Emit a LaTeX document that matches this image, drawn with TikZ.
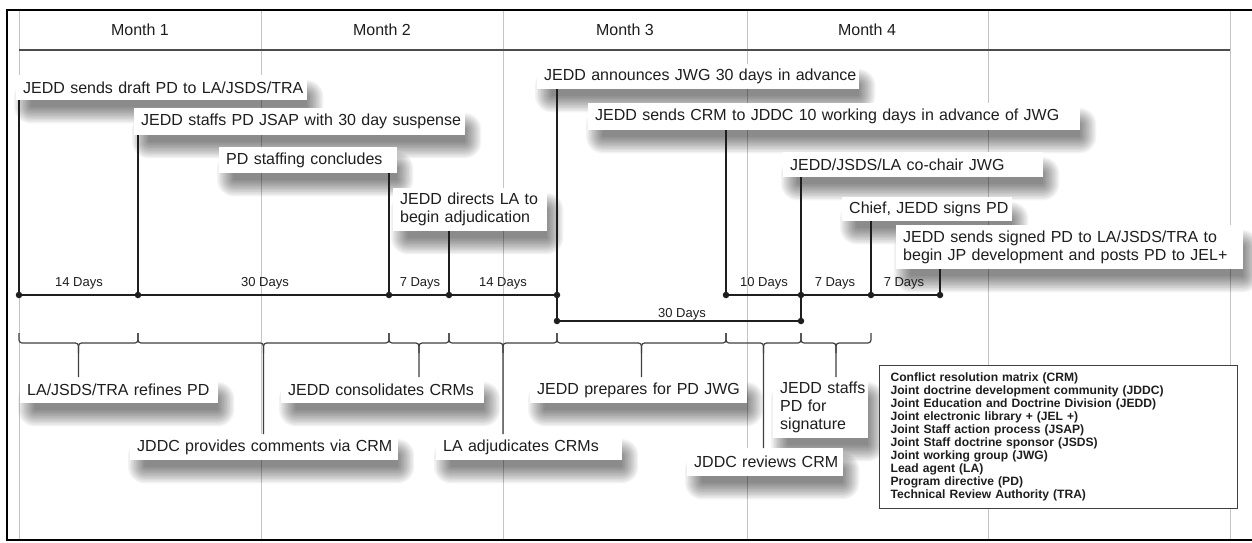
\documentclass[tikz,border=0pt]{standalone}
\usepackage{fontspec}
\setmainfont{Liberation Sans}
\newcommand\mainsz{\fontsize{16}{18}\selectfont}
\newcommand\daysz{\fontsize{13}{15}\selectfont}
\newcommand\legsz{\fontsize{12.1}{13}\selectfont\bfseries}
\definecolor{ink}{HTML}{1E1E1E}
\definecolor{gridc}{HTML}{C4C4C4}
\pgfdeclarelayer{bg}
\pgfsetlayers{bg,main}
\tikzset{
  gridln/.style={gridc, line width=1pt},
  frameln/.style={black, line width=2.5pt},
  hdrln/.style={black!70, line width=1.5pt},
  month/.style={font=\mainsz, text=ink},
  tbox/.style={fill=white, anchor=north west, inner xsep=7pt, inner ysep=0pt,
    align=left, font=\mainsz, text=ink},
  shd/.style={black, opacity=0.046},
  tl/.style={ink, line width=1.3pt},
  dot/.style={circle, fill=ink, inner sep=0pt, minimum size=6.5pt},
  days/.style={font=\daysz, text=ink},
  brc/.style={ink!85, line width=1.2pt, rounded corners=3pt},
  legend/.style={anchor=north west, draw=black!75, line width=1.2pt, fill=white,
    text width=336pt, inner xsep=11pt, inner ysep=7pt, align=left, font=\legsz,
    text=ink, minimum height=143pt}
}
\newcommand\shadowof[1]{%
  \begin{pgfonlayer}{bg}
  \foreach \r [evaluate=\r as \rc using \r+8] in {-7.5,-6,...,9}{
    \fill[shd, rounded corners=\rc pt]
      ([xshift={(7-\r)*1pt}, yshift={(-14+\r)*1pt}]#1.north west) rectangle
      ([xshift={(7+\r)*1pt}, yshift={(-14-\r)*1pt}]#1.south east);
  }
  \end{pgfonlayer}}
\newcommand\bracefor[4]{% xa, xb, target node, id
  \pgfmathsetmacro\bm{(#1+#2)/2}
  \coordinate (bc#4) at (\bm,343);
  \draw[brc] (#1,333) -- (#1,343) -- (bc#4) -- (bc#4 |- #3.north);
  \draw[brc] (#2,333) -- (#2,343) -- (bc#4) -- ([yshift=-10pt]bc#4);
}
\begin{document}
\begin{tikzpicture}[x=1pt,y=-1pt]
\useasboundingbox (0,0) rectangle (1252,542);
\clip (0,0) rectangle (1252,542);
\begin{pgfonlayer}{bg}
\fill[white] (0,0) rectangle (1252,542);
\foreach \gx in {19,261,503,747,988,1230} \draw[gridln] (\gx,10) -- (\gx,540);
\end{pgfonlayer}
% frame and header
\draw[frameln] (1270,10) -- (7,10) -- (7,540) -- (1270,540);
\draw[hdrln] (19,50) -- (1230,50);
\node[month] (m1) at (140,30) {Month 1};
\node[month] (m2) at (382,30) {Month 2};
\node[month] (m3) at (625,30) {Month 3};
\node[month] (m4) at (867,30) {Month 4};
% upper boxes
\node[tbox, text width=277pt, minimum height=25pt] (A) at (16,75) {\mbox{JEDD sends draft PD to LA/JSDS/TRA}};
\node[tbox, text width=317pt, minimum height=27pt] (B) at (134,108) {\mbox{JEDD staffs PD JSAP with 30 day suspense}};
\node[tbox, text width=164pt, minimum height=26pt] (C) at (219,147) {\mbox{PD staffing concludes}};
\node[tbox, text width=140pt, minimum height=43pt] (D) at (393,188) {\mbox{JEDD directs LA to}\\\mbox{begin adjudication}};
\node[tbox, text width=308pt, minimum height=25pt] (E) at (537,64) {\mbox{JEDD announces JWG 30 days in advance}};
\node[tbox, text width=478pt, minimum height=27pt] (F) at (588,103) {\mbox{JEDD sends CRM to JDDC 10 working days in advance of JWG}};
\node[tbox, text width=246pt, minimum height=25pt] (G) at (783,152) {\mbox{JEDD/JSDS/LA co-chair JWG}};
\node[tbox, text width=156pt, minimum height=24pt] (H) at (842,197) {\mbox{Chief, JEDD signs PD}};
\node[tbox, text width=333pt, minimum height=44pt] (I) at (896,225) {\mbox{JEDD sends signed PD to LA/JSDS/TRA to}\\\mbox{begin JP development and posts PD to JEL+}};
% lower boxes
\node[tbox, text width=184pt, minimum height=26pt] (J) at (20,377) {\mbox{LA/JSDS/TRA refines PD}};
\node[tbox, text width=189pt, minimum height=26pt] (L) at (281,377) {\mbox{JEDD consolidates CRMs}};
\node[tbox, text width=203pt, minimum height=26pt] (N) at (530,377) {\mbox{JEDD prepares for PD JWG}};
\node[tbox, text width=81pt, minimum height=61pt] (O) at (773,377) {\mbox{JEDD staffs}\\\mbox{PD for}\\\mbox{signature}};
\node[tbox, text width=254pt, minimum height=26pt] (K) at (130,434) {\mbox{JDDC provides comments via CRM}};
\node[tbox, text width=172pt, minimum height=26pt] (M) at (436,434) {\mbox{LA adjudicates CRMs}};
\node[tbox, text width=142pt, minimum height=28pt] (P) at (687,448) {\mbox{JDDC reviews CRM}};
\foreach \b in {A,B,C,D,E,F,G,H,I,J,K,L,M,N,O,P} {\shadowof{\b}}
% timeline dots
\node[dot] (d1) at (19,295) {};
\node[dot] (d2) at (138,295) {};
\node[dot] (d3) at (389,295) {};
\node[dot] (d4) at (449,295) {};
\node[dot] (d5) at (557,295) {};
\node[dot] (d6) at (726,295) {};
\node[dot] (d7) at (801,295) {};
\node[dot] (d8) at (871,295) {};
\node[dot] (d9) at (940,295) {};
\node[dot] (e1) at (557,321) {};
\node[dot] (e2) at (801,321) {};
% timeline lines
\draw[tl] (d1.center) -- (d2.center) -- (d3.center) -- (d4.center) -- (d5.center);
\draw[tl] (d6.center) -- (d7.center) -- (d8.center) -- (d9.center);
\draw[tl] (d5.center) -- (e1.center) -- (e2.center) -- (d7.center);
% verticals to boxes
\draw[tl] (d1.center) -- (d1.center |- A.south);
\draw[tl] (d2.center) -- (d2.center |- B.south);
\draw[tl] (d3.center) -- (d3.center |- C.south);
\draw[tl] (d4.center) -- (d4.center |- D.south);
\draw[tl] (d5.center) -- (d5.center |- E.south);
\draw[tl] (d6.center) -- (d6.center |- F.south);
\draw[tl] (d7.center) -- (d7.center |- G.south);
\draw[tl] (d8.center) -- (d8.center |- H.south);
\draw[tl] (d9.center) -- (d9.center |- I.south);
% day labels
\node[days] (t1) at (79,283) {14 Days};
\node[days] (t2) at (265,283) {30 Days};
\node[days] (t3) at (420,283) {7 Days};
\node[days] (t4) at (503,283) {14 Days};
\node[days] (t5) at (764,283) {10 Days};
\node[days] (t6) at (835,283) {7 Days};
\node[days] (t7) at (904,283) {7 Days};
\node[days] (t8) at (682,314) {30 Days};
% braces
\bracefor{19}{138}{J}{a}
\bracefor{138}{389}{K}{b}
\bracefor{389}{449}{L}{c}
\bracefor{449}{557}{M}{d}
\bracefor{557}{726}{N}{e}
\bracefor{726}{801}{P}{f}
\bracefor{801}{871}{O}{g}
% legend
\node[legend] (leg) at (879,365) {Conflict resolution matrix (CRM)\\
Joint doctrine development community (JDDC)\\
Joint Education and Doctrine Division (JEDD)\\
Joint electronic library + (JEL +)\\
Joint Staff action process (JSAP)\\
Joint Staff doctrine sponsor (JSDS)\\
Joint working group (JWG)\\
Lead agent (LA)\\
Program directive (PD)\\
Technical Review Authority (TRA)};
\end{tikzpicture}
\end{document}
